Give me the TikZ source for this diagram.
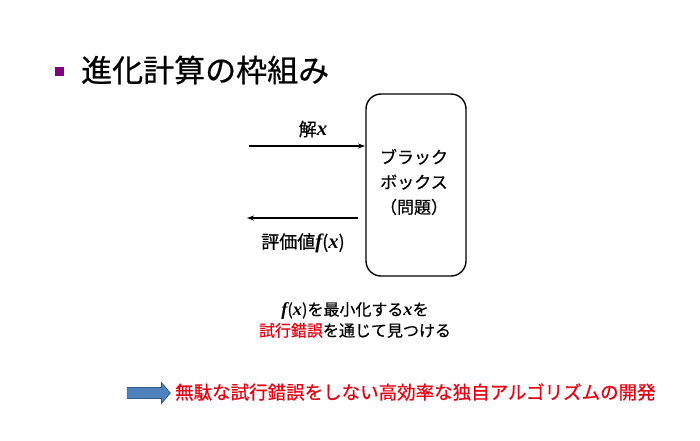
\documentclass[tikz,border=0pt]{standalone}
\usepackage{fontspec}
\setmainfont{Liberation Sans}
\newfontfamily\jp[FakeBold=0.6]{Noto Sans CJK JP}
\newfontfamily\tms{Liberation Serif}
\usetikzlibrary{shapes.arrows,arrows.meta}
\definecolor{bulletpurple}{RGB}{128,0,128}
\definecolor{arrowblue}{RGB}{79,129,189}
\definecolor{arrowedge}{RGB}{56,93,138}
\definecolor{redtext}{RGB}{230,0,18}
\newcommand{\mv}[1]{{\tms\bfseries\itshape\scalebox{1.15}{#1}}}
\tikzset{
  conn/.style={draw, line width=1.1pt, -{Stealth[length=7pt,width=5pt]}},
  lbl/.style={font=\jp\fontsize{18}{21}\selectfont, inner sep=0pt},
}
\begin{document}
\begin{tikzpicture}[x=1pt,y=-1pt]
\useasboundingbox (0,0) rectangle (700,440);
\fill[white] (0,0) rectangle (700,440);
\node[fill=bulletpurple, minimum size=9pt, inner sep=0pt] (bullet) at (59.5,71) {};
\node[anchor=west, font=\jp\fontsize{31}{36}\selectfont, inner sep=0pt] (title) at (81,70) {進化計算の枠組み};
\node[draw, line width=1.4pt, rounded corners=15pt, minimum width=100pt, minimum height=182pt] (box) at (416,185) {};
\node[lbl, align=center, font=\jp\fontsize{17}{25}\selectfont] (boxtext) at (414,182) {ブラック\\ボックス\\（問題）};
\coordinate (a1s) at (249,146);
\coordinate (a1e) at (365,146);
\draw[conn] (a1s) -- (a1e);
\node[lbl] (sol) at (313,129) {解\mv{x}};
\coordinate (a2s) at (358,218);
\coordinate (a2e) at (247,218);
\draw[conn] (a2s) -- (a2e);
\node[lbl] (eval) at (303,243) {評価値\mv{f}(\mv{x})};
\node[lbl, align=center, font=\jp\fontsize{16}{21}\selectfont] (desc) at (355,320) {\mv{f}(\mv{x})を最小化する\mv{x}を\\\textcolor{redtext}{試行錯誤}を通じて見つける};
\node[single arrow, draw=arrowedge, fill=arrowblue, line width=0.8pt, inner xsep=0pt, inner ysep=5pt, single arrow head extend=5pt, minimum height=43pt, single arrow tip angle=100] (barrow) at (146.5,393) {};
\node[lbl, anchor=west, text=redtext, font=\jp\fontsize{18.5}{21}\selectfont] (goal) at (175,392) {無駄な試行錯誤をしない高効率な独自アルゴリズムの開発};
\end{tikzpicture}
\end{document}
